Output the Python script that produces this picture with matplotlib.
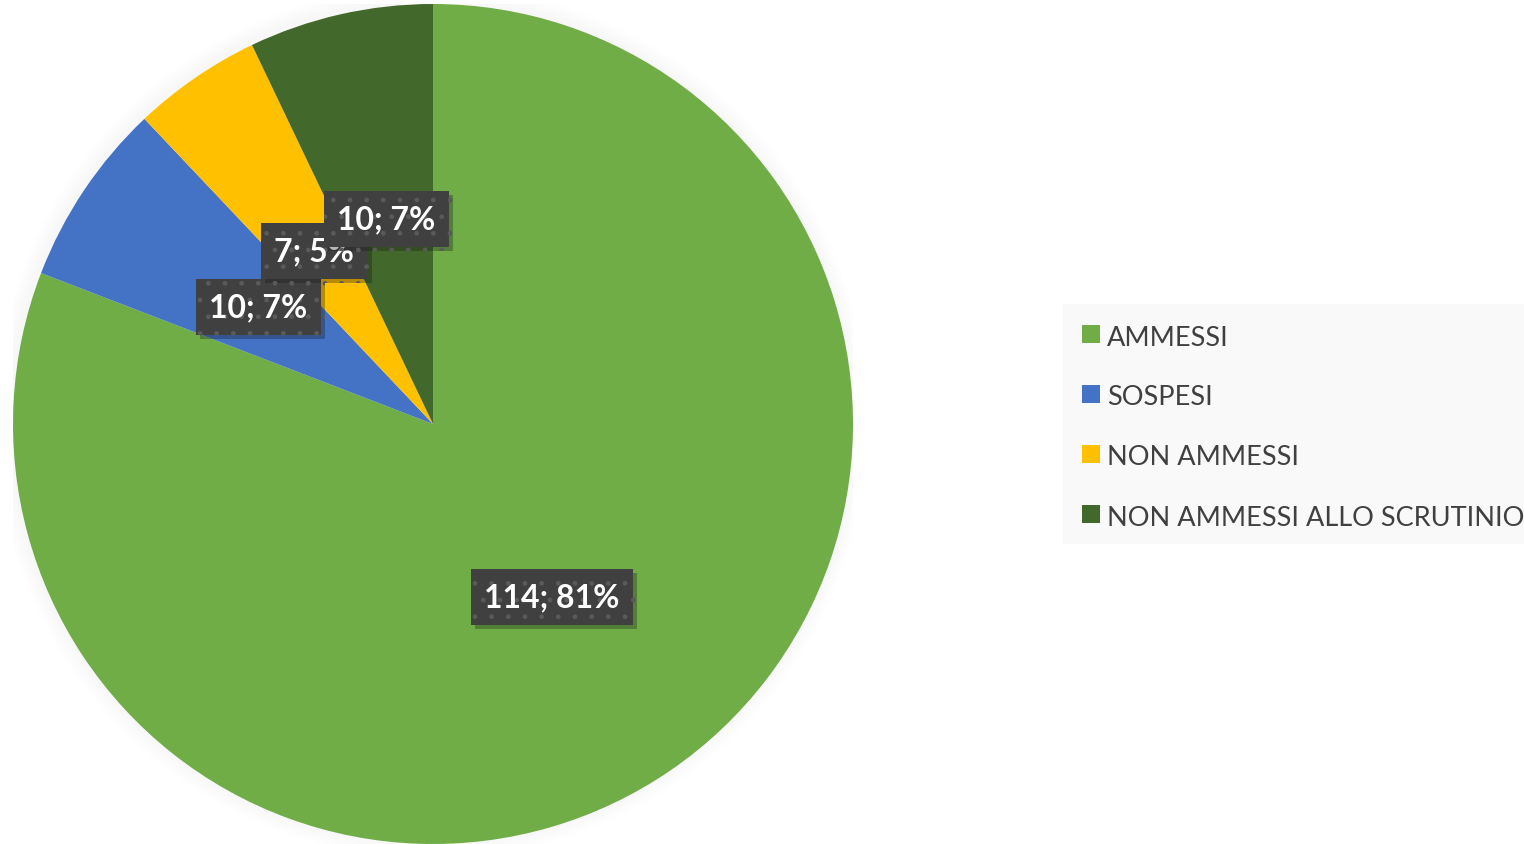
# Grafico a torta esiti scrutinio

import matplotlib.pyplot as plt
from matplotlib.patches import Circle, Rectangle
import matplotlib.patheffects as pe

categorie = ['AMMESSI', 'SOSPESI', 'NON AMMESSI', 'NON AMMESSI ALLO SCRUTINIO']
valori = [114, 10, 7, 10]
colori = ['#70AD47', '#4472C4', '#FFC000', '#43682B']

totale = sum(valori)

plt.rcParams['font.family'] = ['Lato', 'DejaVu Sans']

fig = plt.figure(figsize=(15.24, 8.45), dpi=100)
# asse della torta: centro circa (433, 425) px, raggio 420 px
ax = fig.add_axes([13 / 1524, 0, 840 / 1524, 840 / 845])
ax.axis('off')

# ombra sfumata attorno alla torta
for i in range(8):
    ax.add_patch(Circle((-0.004, 0.005), 1.0 + 0.005 * (i + 1), color='black',
                        alpha=0.004, lw=0, zorder=0))


def etichetta(p):
    n = round(p * totale / 100)
    return f'{n}; {p:.0f}%'


wedges, testi, autotesti = ax.pie(valori, colors=colori, startangle=90, counterclock=False,
                                  radius=1, autopct=etichetta, pctdistance=0.5,
                                  wedgeprops=dict(linewidth=0))
ax.set_xlim(-1, 1)
ax.set_ylim(-1, 1)
ax.set_aspect('equal')

for w in wedges:
    w.set_zorder(2)

for t in autotesti:
    t.set_color('white')
    t.set_fontsize(23)
    t.set_fontweight('bold')
    t.set_zorder(5)
    t.set_bbox(dict(boxstyle='square,pad=0.42', facecolor='#404040', edgecolor='#5a5a5a',
                    hatch='.', linewidth=0))
    t.get_bbox_patch().set_path_effects([pe.SimplePatchShadow(offset=(3, -3), alpha=0.3),
                                         pe.Normal()])

# legenda a destra con sfondo grigio chiaro
fig.patches.append(Rectangle((1063 / 1524, 1 - 545 / 845), 461 / 1524, 240 / 845,
                             transform=fig.transFigure, facecolor='#F9F9F9',
                             edgecolor='none', zorder=0))
for i, (nome, col) in enumerate(zip(categorie, colori)):
    y = 1 - (335 + 60 * i) / 845
    fig.patches.append(Rectangle((1082 / 1524, y - 9 / 845), 18 / 1524, 18 / 845,
                                 transform=fig.transFigure, facecolor=col,
                                 edgecolor='none', zorder=1))
    fig.text(1107 / 1524, y - 3 / 845, nome, fontsize=19.5, color='#404040',
             va='center', ha='left')

fig.savefig('out.png', dpi=100)
